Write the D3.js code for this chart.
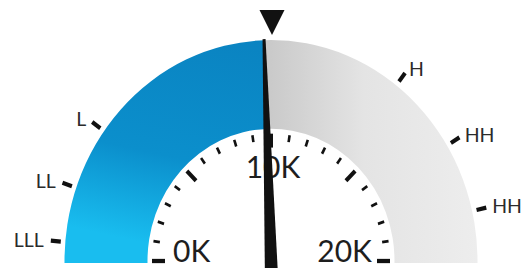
<!DOCTYPE html>
<html><head><meta charset="utf-8">
<script src="https://cdn.jsdelivr.net/npm/d3@7"></script>
<style>html,body{margin:0;padding:0;background:#fff;}svg{display:block;}</style>
</head><body>
<svg id="chart" width="523" height="268"></svg>
<script>
// ---- data ----
const gaugeMin = 0;
const gaugeMax = 20000;
const gaugeValue = 9800;
const setpoint = 10000;
const majorTicks = [0, 5000, 10000, 15000, 20000];
const minorStep = 1000;
const tickLabelValues = [0, 10000, 20000];
const tickLabels = ["0K", "10K", "20K"];
const alarmNames = ["LLL", "LL", "L", "H", "HH", "HH"];
const alarmValues = [550, 2150, 4000, 14150, 16500, 18550];

// ---- layout ----
const W = 523, H = 268;
const cx = 271, cy = 261, sy = 1.07;
const rOuter = 206.5, rInner = 123.5;

const svg = d3.select("#chart");
const defs = svg.append("defs");

const angle = d3.scaleLinear().domain([gaugeMin, gaugeMax]).range([-Math.PI / 2, Math.PI / 2]);

const gBlue = defs.append("linearGradient").attr("id", "gBlue")
  .attr("gradientUnits", "userSpaceOnUse")
  .attr("x1", 0).attr("y1", -rOuter).attr("x2", -rOuter * 0.2).attr("y2", 0);
gBlue.append("stop").attr("offset", 0).attr("stop-color", "#0a83c1");
gBlue.append("stop").attr("offset", 0.6).attr("stop-color", "#0b8fcc");
gBlue.append("stop").attr("offset", 1).attr("stop-color", "#19bdef");

const gGrey = defs.append("linearGradient").attr("id", "gGrey")
  .attr("gradientUnits", "userSpaceOnUse")
  .attr("x1", 0).attr("y1", 0).attr("x2", rOuter).attr("y2", 0);
gGrey.append("stop").attr("offset", 0).attr("stop-color", "#cacaca");
gGrey.append("stop").attr("offset", 0.45).attr("stop-color", "#e4e4e4");
gGrey.append("stop").attr("offset", 1).attr("stop-color", "#ededed");

defs.append("clipPath").attr("id", "clipBottom")
  .append("rect").attr("x", 0).attr("y", 0).attr("width", W).attr("height", 263);

const g = svg.append("g").attr("clip-path", "url(#clipBottom)")
  .append("g").attr("transform", `translate(${cx},${cy}) scale(1,${sy})`);

const arc = d3.arc().innerRadius(rInner).outerRadius(rOuter);
const ext = 0.03;
g.append("path")
  .attr("d", arc({ startAngle: angle(gaugeMin) - ext, endAngle: angle(gaugeValue) }))
  .attr("fill", "url(#gBlue)");
g.append("path")
  .attr("d", arc({ startAngle: angle(gaugeValue), endAngle: angle(gaugeMax) + ext }))
  .attr("fill", "url(#gGrey)");

// inner ticks
const allTicks = d3.range(gaugeMin, gaugeMax + 1, minorStep);
const tg = svg.append("g").attr("transform", `translate(${cx},${cy}) scale(1,${sy})`);
allTicks.forEach(v => {
  const major = majorTicks.includes(v);
  const a = angle(v);
  const r1 = major ? 106 : 112.5, r2 = 119;
  tg.append("line")
    .attr("x1", r1 * Math.sin(a)).attr("y1", -r1 * Math.cos(a))
    .attr("x2", r2 * Math.sin(a)).attr("y2", -r2 * Math.cos(a))
    .attr("stroke", "#111").attr("stroke-width", major ? 4 : 2.6);
});

// alarm ticks
alarmValues.forEach((v, i) => {
  const a = angle(v);
  const r1 = 211, r2 = 221;
  tg.append("line")
    .attr("x1", r1 * Math.sin(a)).attr("y1", -r1 * Math.cos(a))
    .attr("x2", r2 * Math.sin(a)).attr("y2", -r2 * Math.cos(a))
    .attr("stroke", "#111").attr("stroke-width", 4);
  const rl = 226;
  const x = cx + rl * Math.sin(a) + (a < 0 ? -2 : 1);
  const y = cy - rl * Math.cos(a) * sy;
  svg.append("text")
    .attr("x", x).attr("y", y)
    .attr("text-anchor", a < 0 ? "end" : "start")
    .attr("dy", "0.36em")
    .attr("font-family", "Lato, sans-serif")
    .attr("font-size", 19.5)
    .attr("fill", "#2b2b2b")
    .text(alarmNames[i]);
});

// scale labels
tickLabelValues.forEach((v, i) => {
  const a = angle(v);
  const rl = 99;
  const x = cx + rl * Math.sin(a);
  const y = cy - rl * Math.cos(a) * sy;
  const anchor = Math.abs(a) < 1e-6 ? "middle" : (a < 0 ? "start" : "end");
  svg.append("text")
    .attr("x", x + (a < 0 ? 1 : 2))
    .attr("y", Math.abs(a) < 1e-6 ? y + 23 : y + 1)
    .attr("text-anchor", anchor)
    .attr("font-family", "Lato, sans-serif")
    .attr("font-size", 30)
    .attr("fill", "#1e1e1e")
    .text(tickLabels[i]);
});

// needle
const aDeg = angle(gaugeValue) * 180 / Math.PI;
svg.append("g")
  .attr("transform", `translate(${cx},${cy}) rotate(${aDeg})`)
  .append("path")
  .attr("d", d3.line()([[-1.5, -rOuter * sy - 1], [1.5, -rOuter * sy - 1], [6.5, 12], [-6.5, 12]]) + "Z")
  .attr("fill", "#111");

// setpoint marker
const sa = angle(setpoint);
const tipR = rOuter * sy + 5;
const tx = cx + 1 + tipR * Math.sin(sa), ty = cy - tipR * Math.cos(sa);
svg.append("path")
  .attr("d", d3.line()([[tx - 12.5, ty - 25], [tx + 12.5, ty - 25], [tx, ty]]) + "Z")
  .attr("fill", "#111");
</script>
</body></html>
